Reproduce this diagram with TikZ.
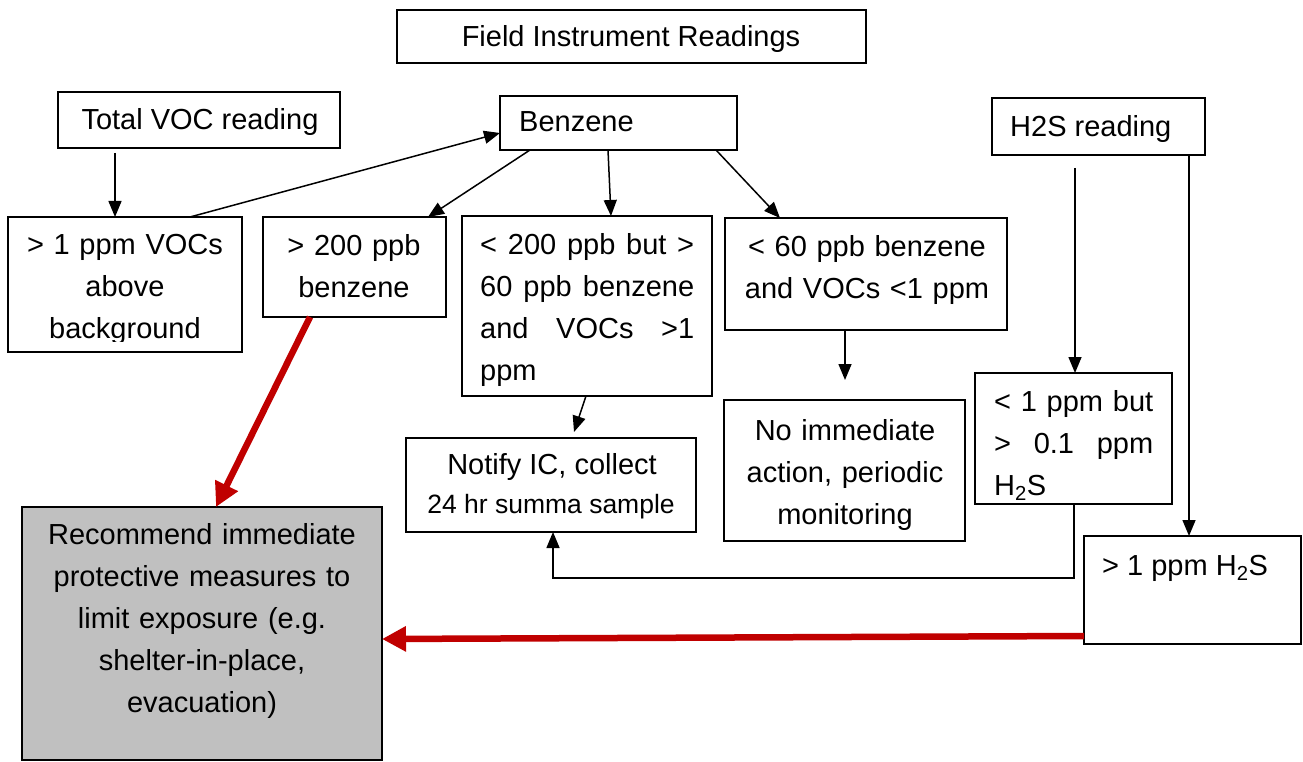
\documentclass[tikz,border=0pt]{standalone}
\usepackage{fontspec}
\setmainfont{Liberation Sans}
\usetikzlibrary{arrows.meta,calc}
\definecolor{redarrow}{HTML}{C00000}
\definecolor{boxgray}{HTML}{C0C0C0}
\tikzset{
 box/.style={draw=black, line width=1.6pt, inner sep=0pt, outer sep=0pt, anchor=north west},
 txt/.style={inner sep=0pt, font=\fontsize{29}{42}\selectfont},
 ml/.style={txt, anchor=north, text width=#1, align=center},
 con/.style={line width=1.5pt, -{Triangle[length=16pt,width=13pt]}},
 redcon/.style={draw=redarrow, line width=6.5pt, -{Triangle[length=24pt,width=24pt]}},
}
\begin{document}
\begin{tikzpicture}[x=1pt,y=-1pt]
\useasboundingbox (0,0) rectangle (1303,762);
% boxes
\node[box, minimum width=469pt, minimum height=53pt] (fir) at (397,10) {};
\node[box, minimum width=282pt, minimum height=56pt] (tvoc) at (58,92) {};
\node[box, minimum width=237pt, minimum height=54pt] (benz) at (500,96) {};
\node[box, minimum width=213pt, minimum height=57pt] (h2s) at (992,98) {};
\node[box, minimum width=234pt, minimum height=135pt] (voc1) at (8,217) {};
\node[box, minimum width=183pt, minimum height=100pt] (b200) at (263,217) {};
\node[box, minimum width=250pt, minimum height=180pt] (b60200) at (462,216) {};
\node[box, minimum width=282pt, minimum height=112pt] (b60) at (725,218) {};
\node[box, minimum width=241pt, minimum height=141pt] (noact) at (724,400) {};
\node[box, minimum width=197pt, minimum height=131pt] (h2slow) at (975,373) {};
\node[box, minimum width=217pt, minimum height=108pt] (h2shigh) at (1084,536) {};
\node[box, minimum width=290pt, minimum height=94pt] (notify) at (406,438) {};
\node[box, fill=boxgray, minimum width=360pt, minimum height=253pt] (rec) at (22,507) {};
% texts
\node[txt, anchor=base] (tfir) at (631,47) {Field Instrument Readings};
\node[txt, anchor=base] (ttvoc) at (200,130) {Total VOC reading};
\node[txt, anchor=base west] (tbenz) at (519,132) {Benzene};
\node[txt, anchor=base west] (th2s) at (1010,137) {H2S reading};
\begin{scope}
\clip (8,217) rectangle (242,341);
\node[ml=234pt] (tvoc1) at (125,224.6) {\strut> 1 ppm VOCs\\above\\background};
\end{scope}
\node[ml=183pt] (tb200) at (354,225.6) {\strut> 200 ppb\\benzene};
\node[txt, anchor=north west, text width=214pt, align=left] (tb60200) at (480,224.6)
 {\strut\makebox[214pt][l]{<\hfill 200\hfill ppb\hfill but\hfill >}\\\makebox[214pt][l]{60\hfill ppb\hfill benzene}\\\makebox[214pt][l]{and\hfill VOCs\hfill >1}\\ppm};
\node[ml=282pt] (tb60) at (867,226.6) {\strut< 60 ppb benzene\\and VOCs <1 ppm};
\node[ml=241pt] (tnoact) at (845,410.6) {\strut No immediate\\action, periodic\\monitoring};
\node[txt, anchor=north west, text width=159pt, align=left] (th2slow) at (994,381.6)
 {\strut\makebox[159pt][l]{<\hfill 1\hfill ppm\hfill but}\\\makebox[159pt][l]{>\hfill 0.1\hfill ppm}\\H\textsubscript{2}S};
\node[txt, anchor=base west] (th2shigh) at (1102,575) {> 1 ppm H\textsubscript{2}S};
\node[txt, anchor=base] (tnotify1) at (552,474) {Notify IC, collect};
\node[txt, anchor=base, font=\fontsize{26.5}{32}\selectfont] (tnotify2) at (551,513) {24 hr summa sample};
\node[ml=360pt] (trec) at (202,514.6) {\strut Recommend immediate\\protective measures to\\limit exposure (e.g.\\shelter-in-place,\\evacuation)};
% connectors
\coordinate (tvocA) at (115,153);
\draw[con] (tvocA) -- (115,0 |- voc1.north);
\draw[con] (190,0 |- voc1.north) -- (benz.west |- 0,133);
\draw[con] (530,0 |- benz.south) -- (428,0 |- b200.north);
\draw[con] (608,0 |- benz.south) -- (611,0 |- b60200.north);
\draw[con] (716,0 |- benz.south) -- (780,0 |- b60.north);
\coordinate (noactA) at (845,380);
\draw[con] (845,0 |- b60.south) -- (noactA);
\coordinate (notifyA) at (574,432);
\draw[con] (586,0 |- b60200.south) -- (notifyA);
\coordinate (h2sA) at (1075,168);
\draw[con] (h2sA) -- (1075,0 |- h2slow.north);
\draw[con] (1189,0 |- h2s.south) -- (1189,0 |- h2shigh.north);
\coordinate (bendA) at (1074,578);
\coordinate (bendB) at (553,578);
\draw[con] (1074,0 |- h2slow.south) -- (bendA) -- (bendB) -- (553,0 |- notify.south);
\draw[redcon] (310,0 |- b200.south) -- (216,0 |- rec.north);
\draw[redcon] (h2shigh.west |- 0,636) -- (rec.east |- 0,639);
\end{tikzpicture}
\end{document}
